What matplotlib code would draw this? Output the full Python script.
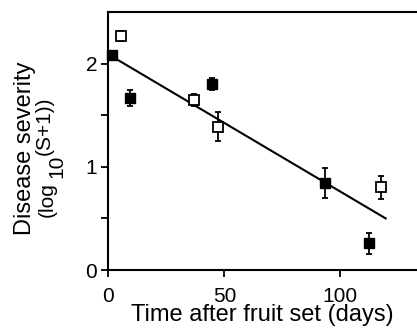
import matplotlib
matplotlib.use('Agg')
import matplotlib.pyplot as plt

plt.rcParams['font.family'] = ['Liberation Sans', 'DejaVu Sans']

# filled squares
dias_lleno = [1.4, 9.4, 44.7, 93.5, 112.3]
sev_lleno = [2.08, 1.665, 1.80, 0.84, 0.26]
err_lleno = [0.03, 0.08, 0.06, 0.145, 0.10]

# open squares
dias_vacio = [5.4, 36.7, 47.4, 117.4]
sev_vacio = [2.27, 1.65, 1.39, 0.80]
err_vacio = [0.05, 0.06, 0.14, 0.11]

# regression line
linea_x = [0, 119.5]
linea_y = [2.09, 0.50]

W, H = 417, 335
fig = plt.figure(figsize=(W / 100, H / 100), dpi=100)
ax = fig.add_axes([0.260, 0.194, 0.74, 0.770])

ax.plot(linea_x, linea_y, color='black', lw=1.5, zorder=2)
ax.errorbar(dias_lleno, sev_lleno, yerr=err_lleno, fmt='s', ms=7,
            mfc='black', mec='black', ecolor='black', elinewidth=1.3,
            capsize=2, capthick=1.3, zorder=3, clip_on=False)
ax.errorbar(dias_vacio, sev_vacio, yerr=err_vacio, fmt='s', ms=6.5,
            mfc='white', mec='black', mew=1.3, ecolor='black',
            elinewidth=1.3, capsize=2, capthick=1.3, zorder=3, clip_on=False)

ax.set_xlim(0, 133)
ax.set_ylim(0, 2.5)
ax.set_xticks([0, 50, 100])
ax.set_yticks([0, 0.5, 1, 1.5, 2])
ax.set_yticklabels(['0', '', '1', '', '2'])
ax.tick_params(axis='both', direction='out', length=5, width=1.3,
               labelsize=15, colors='black')
ax.tick_params(axis='x', pad=7)
ax.tick_params(axis='y', pad=3)

ax.spines['right'].set_visible(False)
for s in ['left', 'top', 'bottom']:
    ax.spines[s].set_linewidth(1.5)

ax.set_xlabel('Time after fruit set (days)', fontsize=17, labelpad=-1)

# y label built from pieces (rotated), positions in pixels
def texto(x, y, s, size):
    fig.text(x / W, 1 - y / H, s, fontsize=size, rotation=90,
             rotation_mode='anchor', ha='left', va='baseline')

texto(31, 235, 'Disease severity', 17)
texto(53, 217, '(log', 15)
texto(62, 178, '10', 15)
texto(50, 155, '(S+1))', 15)

fig.savefig('out.png', dpi=100)
